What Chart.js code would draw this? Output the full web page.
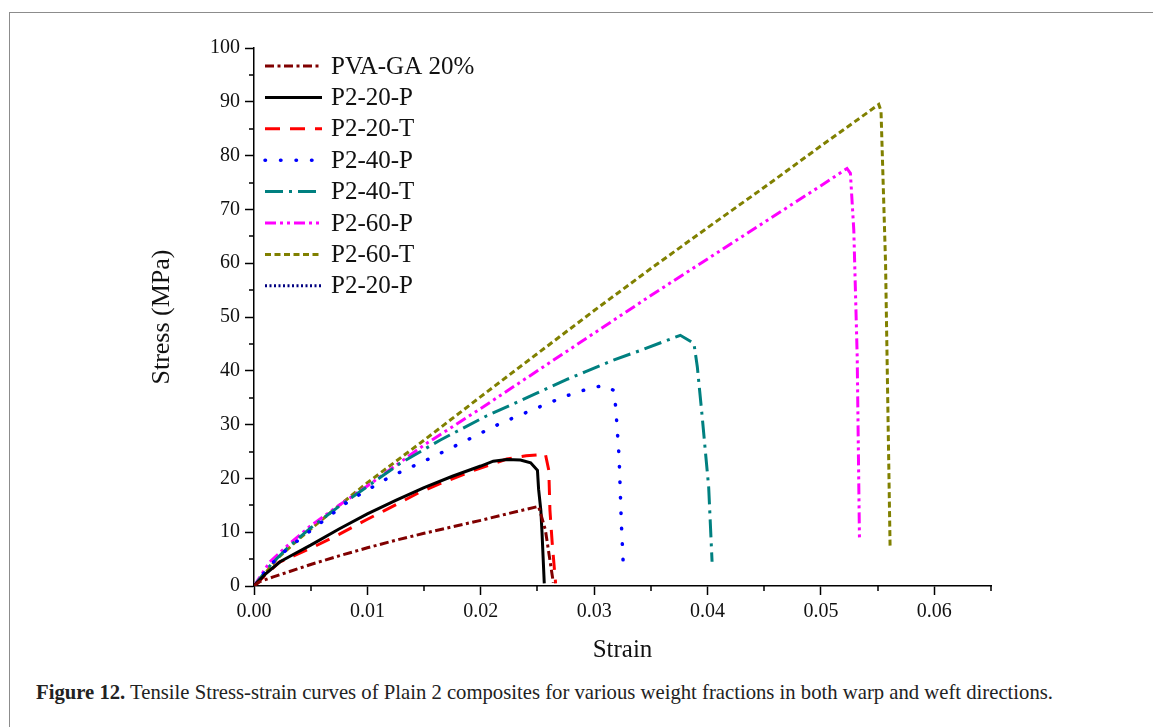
<!DOCTYPE html>
<html>
<head>
<meta charset="utf-8">
<title>Tensile stress-strain curves</title>
<script src="https://cdn.jsdelivr.net/npm/chart.js@4.4.1/dist/chart.umd.min.js"></script>
<style>
  html, body { margin: 0; padding: 0; background: #fff; overflow: hidden; }
  body { width: 1153px; height: 727px; position: relative; }
  .frame { position: absolute; left: 9px; top: 12px; width: 1200px; height: 800px; border: 1.5px solid #8c8c8c; box-sizing: border-box; }
  #myChart { position: absolute; left: 0; top: 0; }
  .caption { position: absolute; left: 36px; top: 681px; font-family: "Liberation Serif", "Times New Roman", serif; font-size: 20.7px; color: #222; white-space: nowrap; }
</style>
</head>
<body>
<div class="frame"></div>
<canvas id="myChart" width="1153" height="680"></canvas>
<div class="caption"><b>Figure 12.</b> Tensile Stress-strain curves of Plain 2 composites for various weight fractions in both warp and weft directions.</div>

<script>
// 시리즈 데이터 (strain, stress MPa)
const pvaStrain = [0, 0.0005, 0.0017, 0.003, 0.005, 0.0075, 0.01, 0.0125, 0.015, 0.0175, 0.02, 0.0225, 0.0251, 0.0257, 0.0261, 0.0264];
const pvaStress = [0, 0.8, 1.7, 2.6, 4.0, 5.6, 7.1, 8.5, 9.8, 11.0, 12.2, 13.5, 14.8, 10.4, 4.8, 0.6];

const p220pStrain = [0, 0.001, 0.0023, 0.0035, 0.005, 0.0075, 0.01, 0.0125, 0.015, 0.0175, 0.02, 0.0211, 0.0223, 0.0235, 0.0244, 0.025, 0.0251, 0.0253, 0.0254, 0.0256];
const p220pStress = [0, 2.2, 4.5, 5.9, 7.6, 10.6, 13.4, 15.9, 18.3, 20.4, 22.3, 23.2, 23.5, 23.4, 22.9, 21.5, 18.0, 14.0, 10.0, 0.5];

const p220tStrain = [0, 0.0022, 0.0035, 0.005, 0.0075, 0.01, 0.0115, 0.0145, 0.0165, 0.0194, 0.0223, 0.024, 0.0257, 0.026, 0.0261, 0.0263, 0.0266];
const p220tStress = [0, 4.4, 5.6, 7.0, 9.6, 12.4, 14.0, 17.3, 19.1, 21.5, 23.6, 24.2, 24.5, 21.5, 14.1, 8.0, 0.5];

const p240pStrain = [0, 0.0015, 0.003, 0.005, 0.0085, 0.012, 0.0152, 0.0182, 0.0217, 0.0252, 0.0275, 0.0291, 0.0308, 0.0317, 0.0319, 0.0322, 0.0324, 0.0326];
const p240pStress = [0, 4.0, 7.0, 10.3, 16.0, 20.3, 23.4, 26.5, 30.2, 33.3, 35.3, 36.4, 37.3, 36.4, 33.3, 24.0, 11.6, 2.5];

const p240tStrain = [0, 0.0015, 0.003, 0.005, 0.0075, 0.01, 0.0129, 0.0164, 0.0205, 0.0247, 0.0276, 0.0292, 0.0317, 0.0341, 0.0361, 0.0376, 0.0388, 0.0391, 0.0395, 0.0401, 0.0404];
const p240tStress = [0, 4.0, 7.2, 10.8, 14.8, 18.5, 22.8, 27.1, 31.6, 35.6, 38.4, 39.8, 42.0, 43.8, 45.4, 46.6, 45.1, 40.7, 32.1, 18.4, 4.5];

const p260pStrain = [0, 0.0014, 0.003, 0.005, 0.0075, 0.01, 0.015, 0.02, 0.025, 0.03, 0.035, 0.04, 0.045, 0.05, 0.0523, 0.0526, 0.0529, 0.0532, 0.0534];
const p260pStress = [0, 4.5, 7.6, 11.2, 15.0, 18.6, 26.2, 33.0, 40.0, 47.0, 54.0, 60.8, 67.6, 74.4, 77.6, 76.7, 66.1, 42.6, 8.6];

const p260tStrain = [0, 0.001, 0.002, 0.004, 0.007, 0.01, 0.015, 0.02, 0.025, 0.03, 0.035, 0.04, 0.045, 0.05, 0.0551, 0.0553, 0.0557, 0.0561];
const p260tStress = [0, 2.4, 5.0, 8.8, 14.1, 19.2, 27.1, 35.2, 43.2, 51.2, 59.0, 66.6, 74.1, 81.8, 89.5, 88.3, 60.0, 7.3];

// 범례에만 표시되는 항목
const p220p2Strain = [];
const p220p2Stress = [];

const seriesLabels = ["PVA-GA 20%", "P2-20-P", "P2-20-T", "P2-40-P", "P2-40-T", "P2-60-P", "P2-60-T", "P2-20-P"];

// 축 범위
const strainMax = 0.065;
const stressMax = 100;

const serifFont = '"Liberation Serif", "Times New Roman", serif';

function toPoints(xs, ys) {
  return xs.map(function (x, i) {
    return { x: x, y: ys[i] };
  });
}

function isMajorX(v) {
  return Math.abs(v * 100 - Math.round(v * 100)) < 1e-6;
}
function isMajorY(v) {
  return Math.abs(v % 10) < 1e-6;
}

// 보조 눈금 (짧은 틱)
const minorTicks = {
  id: "minorTicks",
  afterDraw(chart) {
    const ctx = chart.ctx;
    const xs = chart.scales.x;
    const ys = chart.scales.y;
    ctx.save();
    ctx.strokeStyle = "#000";
    ctx.lineWidth = 1.5;
    ctx.beginPath();
    xs.ticks.forEach(function (t) {
      if (!isMajorX(t.value)) {
        const px = Math.round(xs.getPixelForValue(t.value));
        ctx.moveTo(px, xs.top);
        ctx.lineTo(px, xs.top + 5);
      }
    });
    ys.ticks.forEach(function (t) {
      if (!isMajorY(t.value)) {
        const py = Math.round(ys.getPixelForValue(t.value));
        ctx.moveTo(ys.right, py);
        ctx.lineTo(ys.right - 5, py);
      }
    });
    ctx.stroke();
    ctx.restore();
  },
};

// 차트 영역 안쪽 범례
const insideLegend = {
  id: "insideLegend",
  afterDraw(chart) {
    const ctx = chart.ctx;
    const area = chart.chartArea;
    ctx.save();
    chart.data.datasets.forEach(function (ds, i) {
      const y = area.top + 18 + i * 31.4;
      const x0 = area.left + 11;
      ctx.beginPath();
      ctx.setLineDash(ds.borderDash || []);
      ctx.lineCap = ds.borderCapStyle || "butt";
      ctx.lineWidth = ds.borderWidth;
      ctx.strokeStyle = ds.borderColor;
      ctx.moveTo(x0, y);
      ctx.lineTo(x0 + 57, y);
      ctx.stroke();
      ctx.setLineDash([]);
      ctx.fillStyle = "#111";
      ctx.font = "25px " + serifFont;
      ctx.textBaseline = "middle";
      ctx.textAlign = "left";
      ctx.fillText(ds.label, x0 + 66, y + 1);
    });
    ctx.restore();
  },
};

const ctx = document.getElementById("myChart").getContext("2d");
const myChart = new Chart(ctx, {
  type: "line",
  data: {
    datasets: [
      {
        label: seriesLabels[0],
        data: toPoints(pvaStrain, pvaStress),
        borderColor: "#800000",
        borderWidth: 3,
        borderDash: [9, 3.5, 3, 3.5],
      },
      {
        label: seriesLabels[1],
        data: toPoints(p220pStrain, p220pStress),
        borderColor: "#000000",
        borderWidth: 3,
      },
      {
        label: seriesLabels[2],
        data: toPoints(p220tStrain, p220tStress),
        borderColor: "#ff0000",
        borderWidth: 3,
        borderDash: [15, 10],
      },
      {
        label: seriesLabels[3],
        data: toPoints(p240pStrain, p240pStress),
        borderColor: "#0000ff",
        borderWidth: 3.5,
        borderDash: [0.5, 15],
        borderCapStyle: "round",
      },
      {
        label: seriesLabels[4],
        data: toPoints(p240tStrain, p240tStress),
        borderColor: "#008080",
        borderWidth: 3,
        borderDash: [18, 6, 3, 6],
      },
      {
        label: seriesLabels[5],
        data: toPoints(p260pStrain, p260pStress),
        borderColor: "#ff00ff",
        borderWidth: 3,
        borderDash: [11, 4, 3, 4, 3, 4],
      },
      {
        label: seriesLabels[6],
        data: toPoints(p260tStrain, p260tStress),
        borderColor: "#808000",
        borderWidth: 3,
        borderDash: [6, 3.5],
      },
      {
        label: seriesLabels[7],
        data: toPoints(p220p2Strain, p220p2Stress),
        borderColor: "#000080",
        borderWidth: 3,
        borderDash: [2, 2.5],
      },
    ],
  },
  options: {
    responsive: false,
    animation: false,
    layout: {
      padding: { left: 138, right: 162, top: 48, bottom: 14 },
    },
    elements: {
      point: { radius: 0 },
      line: { tension: 0, fill: false },
    },
    scales: {
      x: {
        type: "linear",
        min: 0,
        max: strainMax,
        afterFit: function (scale) {
          scale.height = 80;
        },
        border: { display: true, color: "#000", width: 1.5 },
        grid: {
          drawOnChartArea: false,
          drawTicks: true,
          tickLength: 9,
          tickWidth: 1.5,
          tickColor: function (c) {
            return c.tick && isMajorX(c.tick.value) ? "#000" : "rgba(0,0,0,0)";
          },
        },
        ticks: {
          stepSize: 0.005,
          padding: 5,
          color: "#111",
          font: { family: serifFont, size: 20 },
          maxRotation: 0,
          autoSkip: false,
          callback: function (value) {
            return isMajorX(value) ? value.toFixed(2) : "";
          },
        },
        title: {
          display: true,
          text: "Strain",
          color: "#111",
          font: { family: serifFont, size: 25 },
          padding: { top: 4, bottom: 1 },
        },
      },
      y: {
        min: 0,
        max: stressMax,
        afterFit: function (scale) {
          scale.width = 116;
        },
        border: { display: true, color: "#000", width: 1.5 },
        grid: {
          drawOnChartArea: false,
          drawTicks: true,
          tickLength: 9,
          tickWidth: 1.5,
          tickColor: function (c) {
            return c.tick && isMajorY(c.tick.value) ? "#000" : "rgba(0,0,0,0)";
          },
        },
        ticks: {
          stepSize: 5,
          padding: 5,
          color: "#111",
          font: { family: serifFont, size: 20 },
          autoSkip: false,
          callback: function (value) {
            return isMajorY(value) ? String(value) : "";
          },
        },
        title: {
          display: true,
          text: "Stress (MPa)",
          color: "#111",
          font: { family: serifFont, size: 26 },
          padding: { top: 9, bottom: 4 },
        },
      },
    },
    plugins: {
      legend: { display: false },
      tooltip: { enabled: false },
    },
  },
  plugins: [minorTicks, insideLegend],
});
</script>
</body>
</html>
